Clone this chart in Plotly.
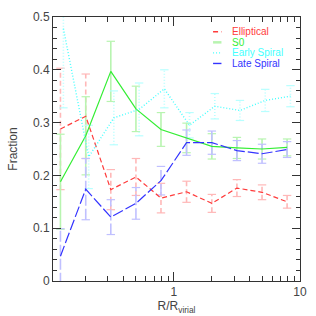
import math
import plotly.graph_objects as go

# ---- data ----
radius = [0.126, 0.2, 0.316, 0.5, 0.79, 1.26, 2.0, 3.16, 5.0, 7.9]
radius_early = [0.133, 0.211, 0.334, 0.53, 0.84, 1.33, 2.11, 3.34, 5.3, 8.4]

elliptical = [0.288, 0.312, 0.173, 0.197, 0.157, 0.169, 0.147, 0.176, 0.168, 0.150]
elliptical_err = [0.115, 0.080, 0.038, 0.035, 0.028, 0.020, 0.017, 0.016, 0.014, 0.012]

s0 = [0.188, 0.275, 0.397, 0.326, 0.287, 0.271, 0.255, 0.252, 0.250, 0.253]
s0_err = [0.090, 0.074, 0.057, 0.043, 0.032, 0.028, 0.024, 0.020, 0.019, 0.016]

early_spiral = [0.478, 0.235, 0.309, 0.325, 0.364, 0.295, 0.331, 0.323, 0.342, 0.350]
early_spiral_err = [0.150, 0.060, 0.051, 0.050, 0.036, 0.024, 0.024, 0.019, 0.021, 0.020]

late_spiral = [0.047, 0.174, 0.121, 0.147, 0.190, 0.262, 0.262, 0.247, 0.241, 0.249]
late_spiral_err = [0.052, 0.058, 0.033, 0.030, 0.027, 0.024, 0.022, 0.019, 0.018, 0.015]

series_names = ["Elliptical", "S0", "Early Spiral", "Late Spiral"]
x_ticks = [1, 10]
x_tick_labels = ["1", "10"]

# ---- styles ----
styles = [
    dict(x=radius, y=elliptical, e=elliptical_err, color="#ff3b3b", light="#ffb8b8", dash="5px,3px", w=1.2),
    dict(x=radius, y=s0, e=s0_err, color="#33ee33", light="#b8f4b0", dash="solid", w=1.2),
    dict(x=radius_early, y=early_spiral, e=early_spiral_err, color="#44ffff", light="#b8ffff", dash="1px,2px", w=1.4),
    dict(x=radius, y=late_spiral, e=late_spiral_err, color="#3333ff", light="#c0c0ff", dash="11px,3px", w=1.2),
]

FONT = "Liberation Sans"
TXT = "#444444"

fig = go.Figure()

# error bars (behind)
for s in styles:
    xs, ys, cx, cy = [], [], [], []
    for xi, yi, ei in zip(s["x"], s["y"], s["e"]):
        xs += [xi, xi, None]
        ys += [yi - ei, yi + ei, None]
        cx += [xi, xi]
        cy += [yi - ei, yi + ei]
    fig.add_trace(go.Scatter(x=xs, y=ys, mode="lines",
                             line=dict(color=s["light"], width=1.6, dash=s["dash"]),
                             hoverinfo="skip", showlegend=False))
    fig.add_trace(go.Scatter(x=cx, y=cy, mode="markers",
                             marker=dict(symbol="line-ew", size=6,
                                         line=dict(color=s["light"], width=1.2)),
                             hoverinfo="skip", showlegend=False))

# main lines
for s, name in zip(styles, series_names):
    fig.add_trace(go.Scatter(x=s["x"], y=s["y"], mode="lines", name=name,
                             line=dict(color=s["color"], width=s["w"], dash=s["dash"]),
                             showlegend=False))

# manual legend
leg_y = [0.944, 0.904, 0.864, 0.824]
for s, name, ly in zip(styles, series_names, leg_y):
    fig.add_shape(type="line", xref="paper", yref="paper",
                  x0=0.648, x1=0.682, y0=ly, y1=ly,
                  line=dict(color=s["color"] if s["dash"] != "solid" else s["light"],
                            width=1.4 if s["dash"] != "solid" else 2.5,
                            dash=s["dash"]))
    fig.add_annotation(xref="paper", yref="paper", x=0.722, y=ly, text=name,
                       showarrow=False, xanchor="left", yanchor="middle",
                       borderpad=0,
                       font=dict(family=FONT, size=10, color=s["color"]))

axis_common = dict(showline=True, linecolor="#333333", linewidth=1, mirror="ticks",
                   ticks="inside", tickcolor="#333333", showgrid=False, zeroline=False,
                   automargin=False,
                   tickfont=dict(family=FONT, size=12, color=TXT))

fig.update_xaxes(type="log", range=[math.log10(0.11), 1.0],
                 tickmode="array", tickvals=x_ticks, ticktext=x_tick_labels,
                 ticklen=9,
                 minor=dict(tickmode="array",
                            tickvals=[0.2, 0.3, 0.4, 0.5, 0.6, 0.7, 0.8, 0.9,
                                      2, 3, 4, 5, 6, 7, 8, 9],
                            ticks="inside", ticklen=5, tickcolor="#333333"),
                 title=dict(text="R/R<sub>virial</sub>", standoff=2,
                            font=dict(family=FONT, size=12, color=TXT)),
                 **axis_common)
fig.update_yaxes(range=[0, 0.5], tickmode="linear", tick0=0, dtick=0.1,
                 ticklen=8,
                 minor=dict(dtick=0.02, ticks="inside", ticklen=4, tickcolor="#333333"),
                 title=dict(text="Fraction", standoff=12,
                            font=dict(family=FONT, size=12, color=TXT)),
                 **axis_common)

fig.update_layout(width=316, height=316,
                  margin=dict(l=53, r=16, t=17, b=35),
                  paper_bgcolor="white", plot_bgcolor="white",
                  showlegend=False)

fig.write_html("out.html", config={"displayModeBar": False},
               post_script="document.body.style.margin='0';document.body.style.padding='0';")
